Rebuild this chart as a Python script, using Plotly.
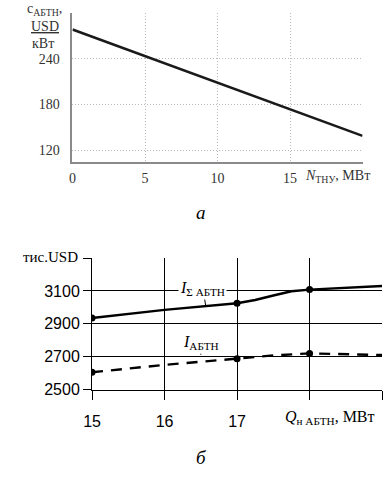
import plotly.graph_objects as go

W, H = 386, 479

# --- top chart (a) data ---
n_thu = [0, 20]
c_abtn = [278, 139]
a_xticks = [0, 5, 10, 15, 20]
a_xlabels = ["0", "5", "10", "15", ""]
a_yticks = [120, 180, 240, 300]
a_ylabels = ["120", "180", "240", ""]

# --- bottom chart (б) data ---
q_sum = [15, 16, 17, 17.25, 17.5, 17.75, 18, 18.5, 19]
i_sum = [2935, 2985, 3025, 3045, 3072, 3098, 3108, 3120, 3130]
q_abtn = [15, 16, 17, 17.5, 18, 19]
i_abtn = [2605, 2650, 2688, 2708, 2720, 2710]
mark_q = [15, 17, 18]
mark_sum = [2935, 3025, 3108]
mark_abtn = [2605, 2688, 2720]
b_xticks = [15, 16, 17, 18, 19]
b_xlabels = ["15", "16", "17", "", ""]
b_yticks = [2500, 2700, 2900, 3100, 3300]
b_ylabels = ["2500", "2700", "2900", "3100", ""]

def px(x):
    return x / W

def py(y):
    return 1 - y / H

SERIF = "Liberation Serif, Times New Roman, serif"
SANS = "Liberation Sans, Arial, sans-serif"

fig = go.Figure()

fig.add_trace(go.Scatter(x=n_thu, y=c_abtn, mode="lines",
                         line=dict(color="#1a1a1a", width=2.6),
                         xaxis="x", yaxis="y", showlegend=False))

fig.add_trace(go.Scatter(x=q_sum, y=i_sum, mode="lines",
                         line=dict(color="black", width=2.4),
                         xaxis="x2", yaxis="y2", showlegend=False))
fig.add_trace(go.Scatter(x=q_abtn, y=i_abtn, mode="lines",
                         line=dict(color="black", width=2.4, dash="11px,8px"),
                         xaxis="x2", yaxis="y2", showlegend=False))
fig.add_trace(go.Scatter(x=mark_q, y=mark_sum, mode="markers",
                         marker=dict(color="black", size=7),
                         xaxis="x2", yaxis="y2", showlegend=False))
fig.add_trace(go.Scatter(x=mark_q, y=mark_abtn, mode="markers",
                         marker=dict(color="black", size=7),
                         xaxis="x2", yaxis="y2", showlegend=False))

fig.update_layout(
    width=W, height=H,
    margin=dict(l=0, r=0, t=0, b=0),
    paper_bgcolor="white", plot_bgcolor="white",
    xaxis=dict(domain=[px(65), px(362)], range=[0, 20], tickvals=a_xticks, ticktext=a_xlabels,
               showgrid=True, gridcolor="#b8b8b8", griddash="1px,2px", gridwidth=1,
               showline=True, linecolor="#8a8a8a", linewidth=2, zeroline=False,
               ticks="", ticklabelstandoff=2, tickfont=dict(family=SERIF, size=14, color="#333"),
               anchor="y"),
    yaxis=dict(domain=[py(165), py(13)], range=[105, 300], tickvals=a_yticks, ticktext=a_ylabels,
               showgrid=True, gridcolor="#b8b8b8", griddash="1px,2px", gridwidth=1,
               showline=True, linecolor="#8a8a8a", linewidth=2, zeroline=False,
               ticks="", ticklabelstandoff=8, tickfont=dict(family=SERIF, size=14, color="#333"),
               anchor="x"),
    xaxis2=dict(domain=[px(85), px(382)], range=[15, 19], tickvals=b_xticks, ticktext=b_xlabels,
                showgrid=True, gridcolor="black", gridwidth=1,
                showline=True, linecolor="black", linewidth=1, zeroline=False,
                ticks="outside", ticklen=9, tickcolor="black", ticklabelstandoff=8,
                tickfont=dict(family=SANS, size=16, color="black"),
                anchor="y2"),
    yaxis2=dict(domain=[py(397), py(263)], range=[2500, 3300], tickvals=b_yticks, ticktext=b_ylabels,
                showgrid=True, gridcolor="black", gridwidth=1,
                showline=True, linecolor="black", linewidth=1, zeroline=False,
                ticks="outside", ticklen=8, tickcolor="black",
                tickfont=dict(family=SANS, size=16, color="black"),
                anchor="x2"),
)

def pann(x, y, text, size, family=SERIF, color="black", xanchor="center"):
    return dict(x=px(x), y=py(y), xref="paper", yref="paper", showarrow=False,
                xanchor=xanchor, yanchor="middle", text=text,
                font=dict(family=family, size=size, color=color))

ann = []
# top chart y title
ann.append(pann(36, 10, "c<sub>АБТН</sub>,", 14, color="#333"))
ann.append(pann(37, 27, "<u>USD</u>", 14, color="#333"))
ann.append(pann(35, 44, "кВт", 14, color="#333"))
# top chart x title
ann.append(pann(301, 180, "<i>N</i><sub>ТНУ</sub>, МВт", 14, color="#333", xanchor="left"))
# caption a
ann.append(pann(197, 217, "<i>a</i>", 19))
# bottom chart y title
ann.append(pann(73, 262, "тис.USD", 15, xanchor="right"))
# bottom chart x title
ann.append(pann(281, 425, "<i>Q</i><sub>н АБТН</sub>, МВт", 16, xanchor="left"))
# caption б
ann.append(pann(197, 466, "<i>б</i>", 19))
# series labels
ann.append(dict(x=16.57, y=3005, xref="x2", yref="y2", showarrow=True, arrowhead=0,
                arrowwidth=1, arrowcolor="black", ax=-3, ay=-18,
                xanchor="center", yanchor="middle",
                text="<i>I</i><sub>Σ АБТН</sub>", bgcolor="white",
                font=dict(family=SERIF, size=16, color="black")))
ann.append(dict(x=16.5, y=2712, xref="x2", yref="y2", showarrow=True, arrowhead=0,
                arrowwidth=1, arrowcolor="black", ax=0, ay=-12,
                xanchor="center", yanchor="middle",
                text="<i>I</i><sub>АБТН</sub>",
                font=dict(family=SERIF, size=16, color="black")))

fig.update_layout(annotations=ann)
fig.write_html("out.html")
